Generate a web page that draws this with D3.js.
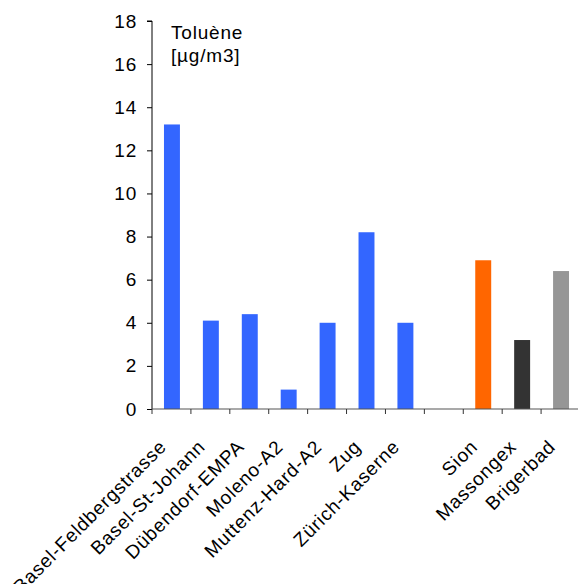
<!DOCTYPE html>
<html><head><meta charset="utf-8">
<script src="https://cdn.jsdelivr.net/npm/d3@7"></script>
<style>body{margin:0;background:#fff}svg{display:block}text{font-family:"Liberation Sans",Arial,sans-serif;letter-spacing:0.8px}</style>
</head><body>
<svg id="c" width="578" height="584"></svg>
<script>
const categories = ["Basel-Feldbergstrasse","Basel-St-Johann","Dübendorf-EMPA","Moleno-A2","Muttenz-Hard-A2","Zug","Zürich-Kaserne","","Sion","Massongex","Brigerbad"];
const values = [13.2,4.1,4.4,0.9,4.0,8.2,4.0,null,6.9,3.2,6.4];
const colors = ["#3366FF","#3366FF","#3366FF","#3366FF","#3366FF","#3366FF","#3366FF","#3366FF","#FF6600","#333333","#969696"];
const yTicks = [0,2,4,6,8,10,12,14,16,18];
const titleLines = ["Toluène","[µg/m3]"];

(function(){
const svg = d3.select("#c");
const mLeft = 152, mRight = 580, mTop = 21, mBottom = 409;
const fs = 19;
const x = d3.scaleBand().domain(d3.range(categories.length)).range([mLeft, mRight]).paddingInner(0).paddingOuter(0);
const y = d3.scaleLinear().domain([0,18]).range([mBottom, mTop]);
const bw = x.bandwidth()*0.41;

svg.append("g").selectAll("rect").data(values.map((v,i)=>({v,i})).filter(d=>d.v!=null))
  .enter().append("rect")
  .attr("x", d=>x(d.i)+x.bandwidth()/2-bw/2+0.5)
  .attr("width", bw)
  .attr("y", d=>y(d.v))
  .attr("height", d=>y(0)-y(d.v))
  .attr("fill", d=>colors[d.i]);

const ya = svg.append("g").attr("transform",`translate(${mLeft},0)`)
  .call(d3.axisLeft(y).tickValues(yTicks).tickSize(5).tickPadding(10).tickFormat(d3.format("d")));
ya.select(".domain").attr("stroke","#000").attr("d",`M-5,${mTop}H0V${mBottom}`);
ya.selectAll(".tick line").attr("stroke","#000");
ya.selectAll("text").attr("font-size",fs).attr("fill","#000").attr("font-family",null);

const xa = svg.append("g").attr("transform",`translate(0,${mBottom})`);
xa.append("line").attr("x1",mLeft).attr("x2",mRight).attr("stroke","#555").attr("stroke-width",1.2);
xa.selectAll("line.t").data(d3.range(categories.length)).enter().append("line").attr("class","t")
  .attr("x1",d=>x(d)).attr("x2",d=>x(d)).attr("y1",0).attr("y2",5).attr("stroke","#333");
xa.selectAll("text").data(categories.map((c,i)=>({c,i})).filter(d=>d.c)).enter().append("text")
  .attr("transform",d=>`translate(${x(d.i)+x.bandwidth()/2-4},${39}) rotate(-45)`)
  .attr("text-anchor","end").attr("font-size",fs).attr("fill","#000")
  .text(d=>d.c);

svg.append("g").selectAll("text").data(titleLines).enter().append("text")
  .attr("x",171).attr("y",(d,i)=>39+i*23).attr("font-size",fs).attr("fill","#000").text(d=>d);
})();
</script>
</body></html>
